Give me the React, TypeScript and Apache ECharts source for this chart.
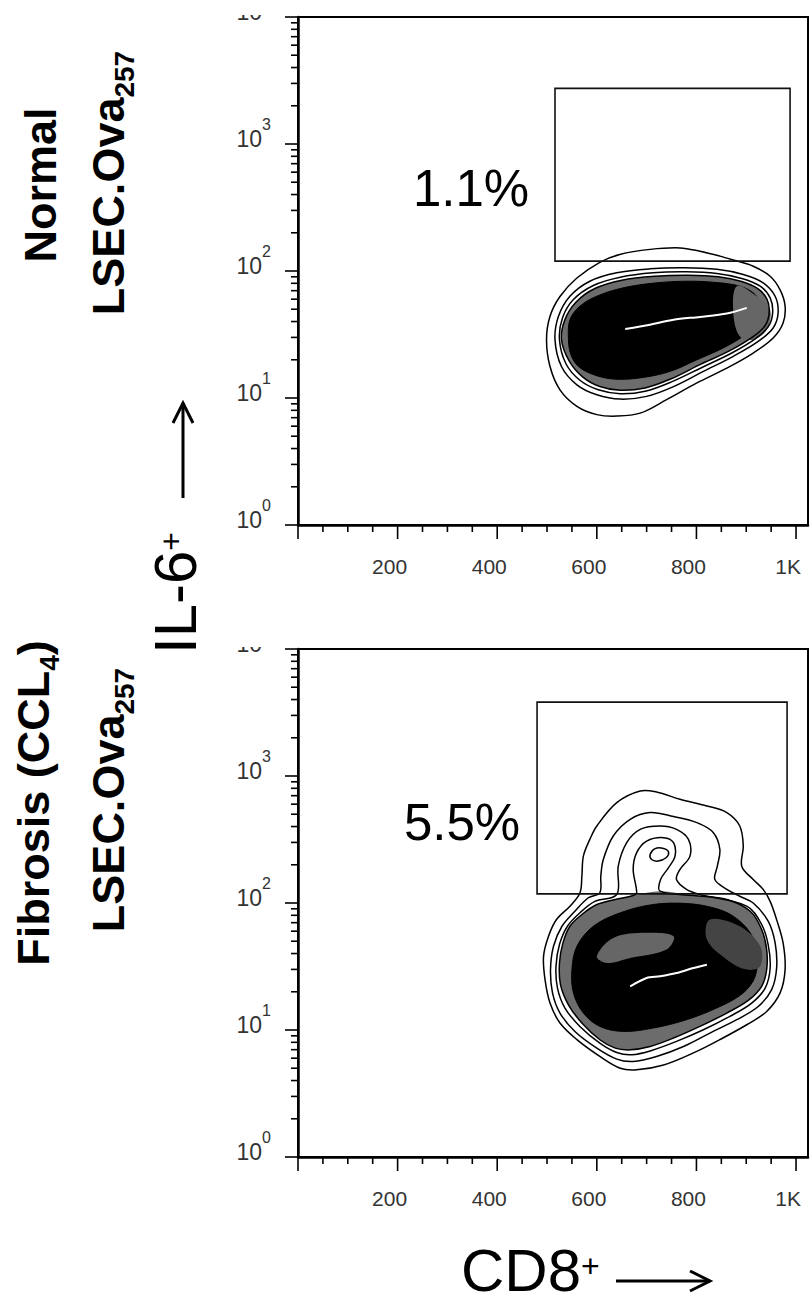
import React, { useEffect, useRef } from 'react';
import * as echarts from 'echarts';

const FONT = '"Liberation Sans", Arial, Helvetica, sans-serif';

// axis ticks
const X_MAJOR = [0, 200, 400, 600, 800, 1000];
const X_MINOR = [50, 100, 150, 250, 300, 350, 450, 500, 550, 650, 700, 750, 850, 900, 950];
const Y_MAJOR = [1, 10, 100, 1000, 10000];
const Y_DECADES = [1, 10, 100, 1000];
const Y_MULTS = [2, 3, 4, 5, 6, 7, 8, 9];

// gates: [xMin, xMax, yMin, yMax]
const GATE_NORMAL = [516, 988, 119.5, 2740];
const GATE_FIBROSIS = [480, 982, 118, 3820];
const PCT_LABELS = ['1.1%', '5.5%'];

// Normal panel contours ([CD8, IL-6])
const N_C1 = [[606,117],[646,135],[707,148],[767,152],[807,143],[847,131],[874,122],[914,109],[948,91],[968,71],[978,53],[974,39],[954,29.7],[914,22.6],[861,17.2],[800,13.1],[740,9.7],[687,7.6],[640,7.2],[600,7.4],[560,8.6],[526,11.6],[506,17.7],[499,28.8],[506,44],[526,63],[560,88]];
const N_C2 = [[516,28.8],[523,44],[546,63.3],[586,83.1],[640,96.8],[707,104],[774,106],[841,103],[894,93.8],[934,80.7],[958,63.3],[964,46.8],[954,35.6],[924,27.9],[874,21.3],[814,16.2],[754,12.3],[700,10.3],[647,9.8],[600,10.6],[560,12.7],[529,17.7]];
const N_C3 = [[525,28.8],[531,42.7],[553,59.6],[593,76.9],[647,89.4],[713,96.8],[780,98.5],[841,95.5],[891,87.3],[928,75.9],[948,61.4],[953,46.8],[944,36.3],[918,29.2],[871,22.6],[811,17.4],[750,13.4],[697,11.3],[647,10.8],[603,11.6],[566,13.8],[538,18.6]];
const N_C4 = [[529,28.8],[536,41.4],[558,56.8],[596,72.8],[650,84.7],[717,91],[784,92.7],[844,90],[891,82.6],[924,72.3],[942,59.6],[946,46.8],[938,37.2],[913,30.3],[867,23.6],[807,18.3],[748,14.1],[697,12],[647,11.5],[606,12.3],[572,14.6],[545,19.4]];
const N_CORE = [[543,28.8],[546,41.4],[566,52.8],[600,63.3],[653,73.7],[720,80.7],[787,83.1],[847,80.7],[887,75.9],[914,67.3],[928,56.1],[929,45.4],[918,36.7],[894,30.6],[854,24.8],[801,20],[747,16.2],[687,14.4],[633,14.1],[593,15.3],[563,17.7],[548,21.9]];
const N_PATCH = [[881,75.9],[921,63.3],[948,49.7],[941,34.5],[914,28.8],[887,30.6],[874,46.8]];
const N_RIDGE = [[657,35],[707,37.8],[754,41.4],[807,43.5],[861,46.2],[901,51.2]];

// Fibrosis panel contours
const F_C1 = [[566,120],[570,163],[573,234],[586,317],[600,404],[640,617],[687,762],[720,748],[767,656],[821,581],[861,515],[887,404],[894,281],[891,195],[914,153],[934,128],[948,103],[961,74],[974,48.5],[978,29.9],[968,19.6],[941,14],[901,11],[847,8.4],[794,6.6],[734,5.3],[680,4.86],[647,5],[606,6.2],[560,8.4],[526,11.35],[506,16.3],[496,24.9],[493,38],[503,54.7],[519,74.1],[546,94.4]];
const F_C2 = [[606,120],[608,163],[613,220],[633,337],[667,456],[707,515],[754,479],[801,429],[834,358],[847,264],[842,195],[837,153],[861,128],[887,113],[914,100],[944,71.9],[958,48.5],[961,30.8],[951,20.8],[924,15.3],[881,12.05],[827,9.46],[774,7.42],[720,6.19],[673,5.65],[640,5.9],[600,7.2],[556,9.74],[526,13.6],[511,19.6],[507,29.9],[513,45.6],[530,65.6],[556,86.1],[583,110]];
const F_C3 = [[640,116.7],[643,195],[660,298.5],[687,380],[727,404],[760,380],[784,317],[787,234],[767,184],[760,153],[780,128],[807,116.7],[901,94.4],[931,67.7],[944,47.1],[948,30.8],[938,21.4],[911,16.3],[867,12.8],[814,10.04],[760,8.13],[710,6.9],[670,6.38],[640,6.65],[606,7.89],[566,10.67],[536,14.9],[521,21.4],[518,31.7],[525,47.1],[541,65.6],[566,83.7],[596,103]];
const F_C4 = [[680,120.3],[673,184],[680,249],[700,307],[734,327],[754,298.5],[757,234],[744,190],[728,153],[727,124],[794,114.6],[861,106.6],[908,86.1],[931,61.8],[941,43],[941,29.9],[931,22.1],[904,17.1],[861,13.6],[807,10.67],[754,8.64],[707,7.42],[667,6.98],[637,7.2],[606,8.38],[570,11.35],[543,15.8],[527,22.8],[525,33.7],[532,48.5],[546,65.6],[570,81.2],[600,97.3],[637,106.6],[673,114.6]];
const F_LOBE = [[707,241],[717,268],[734,269],[744,252],[739,227],[723,214],[710,220]];
const F_CORE = [[560,45.6],[593,65.6],[647,83.7],[713,97.3],[780,99.1],[834,91.6],[874,78.7],[908,58.2],[921,40.5],[918,26.5],[894,19.6],[847,15.3],[780,12.05],[713,10.36],[653,9.74],[606,10.67],[573,13.6],[553,19.6],[550,29.9]];
const F_PATCH_A = [[600,38],[633,53.1],[700,58.2],[754,54.7],[740,43],[667,36.9],[620,33.7]];
const F_PATCH_B = [[827,74.1],[887,65.6],[928,45.6],[928,31.7],[901,29.9],[861,35.8],[821,51.5]];
const F_RIDGE = [[667,22.1],[700,25.7],[727,26.5],[760,28.1],[794,30.8],[821,32.7]];

type Pt = number[];

function polySeries(g: number, polys: Pt[][], style: any, closed: boolean, smooth: number) {
  return {
    type: 'custom',
    xAxisIndex: g,
    yAxisIndex: g,
    silent: true,
    data: polys.map((p, i) => [p[0][0], p[0][1], i]),
    renderItem: (params: any, api: any) => {
      const poly = polys[params.dataIndex];
      const pts = poly.map((pt) => api.coord(pt));
      return {
        type: closed ? 'polygon' : 'polyline',
        shape: { points: pts, smooth },
        style: { ...style },
      };
    },
  };
}

function gateSeries(g: number, gate: number[]) {
  return {
    type: 'custom',
    xAxisIndex: g,
    yAxisIndex: g,
    silent: true,
    data: [[gate[0], gate[2], gate[1], gate[3]]],
    renderItem: (params: any, api: any) => {
      const a = api.coord([api.value(0), api.value(3)]);
      const b = api.coord([api.value(2), api.value(1)]);
      return {
        type: 'rect',
        shape: { x: a[0], y: a[1], width: b[0] - a[0], height: b[1] - a[1] },
        style: { fill: 'none', stroke: '#111', lineWidth: 1.6 },
      };
    },
  };
}

function tickSeries(g: number, axis: 'x' | 'y', values: number[], len: number) {
  return {
    type: 'custom',
    xAxisIndex: g,
    yAxisIndex: g,
    silent: true,
    data: values.map((v) => (axis === 'x' ? [v, 1] : [0, v])),
    renderItem: (params: any, api: any) => {
      const p = api.coord([api.value(0), api.value(1)]);
      const shape =
        axis === 'x'
          ? { x1: p[0], y1: p[1], x2: p[0], y2: p[1] + len }
          : { x1: p[0] - len, y1: p[1], x2: p[0], y2: p[1] };
      return { type: 'line', shape, style: { stroke: '#000', lineWidth: 1.6 } };
    },
  };
}

function buildOption() {
  const yMinor: number[] = [];
  Y_DECADES.forEach((d) => Y_MULTS.forEach((m) => yMinor.push(d * m)));

  const gridBase = {
    left: 298, width: 510, height: 508, show: true, borderColor: '#000', borderWidth: 2,
    containLabel: false, outerBoundsMode: 'none',
  };
  const grids = [{ ...gridBase, top: 17 }, { ...gridBase, top: 649 }];

  const xAxes = [0, 1].map((g) => ({
    type: 'value',
    gridIndex: g,
    min: 0,
    max: 1024,
    interval: 200,
    axisLine: { show: true, onZero: false, lineStyle: { color: '#000', width: 2.5 } },
    axisTick: { show: false },
    splitLine: { show: false },
    axisLabel: {
      margin: 31,
      fontSize: 21,
      color: '#333',
      fontFamily: FONT,
      padding: [0, 16, 0, 0],
      formatter: (v: number) => (v === 1000 ? '1K' : v === 0 || v > 1000 ? '' : String(v)),
    },
  }));

  const yAxes = [0, 1].map((g) => ({
    type: 'log',
    logBase: 10,
    gridIndex: g,
    min: 1,
    max: 10000,
    axisLine: { show: true, lineStyle: { color: '#000', width: 2.5 } },
    axisTick: { show: false },
    splitLine: { show: false },
    minorTick: { show: false },
    axisLabel: {
      margin: 27,
      fontSize: 23,
      color: '#333',
      fontFamily: FONT,
      padding: [0, 0, 22, 0],
      formatter: (v: number) => {
        const e = Math.round(Math.log10(v));
        // the top decade's exponent is cropped away in the original figure
        return e >= 4 ? '{b|10}{sp| }' : `{b|10}{s|${e}}`;
      },
      rich: {
        b: { fontSize: 23, color: '#333', fontFamily: FONT, verticalAlign: 'bottom' },
        s: { fontSize: 16, color: '#333', fontFamily: FONT, padding: [0, 0, 18, 0], verticalAlign: 'bottom' },
        sp: { fontSize: 16, width: 9, color: '#333', fontFamily: FONT, padding: [0, 0, 18, 0], verticalAlign: 'bottom' },
      },
    },
  }));

  const line = { fill: 'none', stroke: '#000', lineWidth: 1.5 };
  const series: any[] = [];
  const panels = [
    { g: 0, band: [N_C4], core: [N_CORE], patch: [N_PATCH], patchDark: [] as Pt[][], ridge: [N_RIDGE], lines: [N_C1, N_C2, N_C3, N_C4], gate: GATE_NORMAL },
    { g: 1, band: [F_C4.slice(9)], core: [F_CORE], patch: [F_PATCH_A], patchDark: [F_PATCH_B], ridge: [F_RIDGE], lines: [F_C1, F_C2, F_C3, F_C4, F_LOBE], gate: GATE_FIBROSIS },
  ];
  panels.forEach((p) => {
    series.push(polySeries(p.g, p.band, { fill: '#6c6c6c', stroke: 'none' }, true, 0.35));
    series.push(polySeries(p.g, p.core, { fill: '#000', stroke: '#000', lineWidth: 1 }, true, 0.35));
    series.push(polySeries(p.g, p.patch, { fill: '#666', stroke: 'none' }, true, 0.35));
    if (p.patchDark.length) series.push(polySeries(p.g, p.patchDark, { fill: '#444', stroke: 'none' }, true, 0.35));
    series.push(polySeries(p.g, p.ridge, { fill: 'none', stroke: '#fff', lineWidth: 2 }, false, 0.3));
    series.push(polySeries(p.g, p.lines, line, true, 0.35));
    series.push(gateSeries(p.g, p.gate));
    series.push(tickSeries(p.g, 'x', X_MAJOR, 14));
    series.push(tickSeries(p.g, 'x', X_MINOR, 7));
    series.push(tickSeries(p.g, 'y', Y_MAJOR, 13));
    series.push(tickSeries(p.g, 'y', yMinor, 7));
  });

  const txt = (extra: any) => ({ fontFamily: FONT, fill: '#000', color: '#000', ...extra });
  const titleRich = {
    m: txt({ fontSize: 45, fontWeight: 'bold', padding: [0, 0, 8, 0], verticalAlign: 'bottom' }),
    s: txt({ fontSize: 28, fontWeight: 'bold', verticalAlign: 'bottom' }),
  };
  const axisRich = {
    m: txt({ fontSize: 60, lineHeight: 48, verticalAlign: 'bottom' }),
    p: txt({ fontSize: 32, lineHeight: 30, padding: [0, 0, 18, 0], verticalAlign: 'bottom' }),
  };
  const rot = Math.PI / 2;

  const graphic: any[] = [
    { type: 'rect', z: 100, shape: { x: 212, y: 0, width: 80, height: 15 }, style: { fill: '#fff' } },
    { type: 'rect', z: 100, shape: { x: 212, y: 590, width: 80, height: 57 }, style: { fill: '#fff' } },
    { type: 'text', z: 100, x: 471, y: 188, style: txt({ text: PCT_LABELS[0], fontSize: 51, align: 'center', verticalAlign: 'middle' }) },
    { type: 'text', z: 100, x: 462, y: 822, style: txt({ text: PCT_LABELS[1], fontSize: 51, align: 'center', verticalAlign: 'middle' }) },
    { type: 'text', z: 100, x: 40, y: 185, rotation: rot, style: txt({ text: 'Normal', fontSize: 45, fontWeight: 'bold', align: 'center', verticalAlign: 'middle' }) },
    { type: 'text', z: 100, x: 112, y: 183, rotation: rot, style: txt({ text: '{m|LSEC.Ova}{s|257}', rich: titleRich, align: 'center', verticalAlign: 'middle' }) },
    { type: 'text', z: 100, x: 37, y: 803, rotation: rot, style: txt({ text: '{m|Fibrosis (CCL}{s|4}{m|)}', rich: titleRich, align: 'center', verticalAlign: 'middle' }) },
    { type: 'text', z: 100, x: 112, y: 800, rotation: rot, style: txt({ text: '{m|LSEC.Ova}{s|257}', rich: titleRich, align: 'center', verticalAlign: 'middle' }) },
    { type: 'text', z: 100, x: 181, y: 593, rotation: rot, style: txt({ text: '{m|IL-6}{p|+}', rich: axisRich, align: 'center', verticalAlign: 'middle' }) },
    { type: 'polyline', z: 100, shape: { points: [[183, 498], [183, 403]] }, style: { stroke: '#000', lineWidth: 3, fill: 'none' } },
    { type: 'polyline', z: 100, shape: { points: [[173, 423], [183, 403], [193, 423]] }, style: { stroke: '#000', lineWidth: 3, fill: 'none' } },
    { type: 'text', z: 100, x: 461, y: 1276, style: txt({ text: '{m|CD8}{p|+}', rich: axisRich, align: 'left', verticalAlign: 'middle' }) },
    { type: 'polyline', z: 100, shape: { points: [[616, 1281], [710, 1281]] }, style: { stroke: '#000', lineWidth: 3, fill: 'none' } },
    { type: 'polyline', z: 100, shape: { points: [[690, 1271], [710, 1281], [690, 1291]] }, style: { stroke: '#000', lineWidth: 3, fill: 'none' } },
  ];

  return {
    animation: false,
    backgroundColor: '#fff',
    grid: grids,
    xAxis: xAxes,
    yAxis: yAxes,
    series,
    graphic,
  };
}

export default function App() {
  const ref = useRef<HTMLDivElement>(null);
  useEffect(() => {
    const chart = echarts.init(ref.current as HTMLDivElement, null, { renderer: 'svg' });
    chart.setOption(buildOption() as any);
    return () => chart.dispose();
  }, []);
  return (
    <div
      ref={ref}
      style={{ position: 'fixed', left: 0, top: 0, width: 811, height: 1305, background: '#fff' }}
    />
  );
}
